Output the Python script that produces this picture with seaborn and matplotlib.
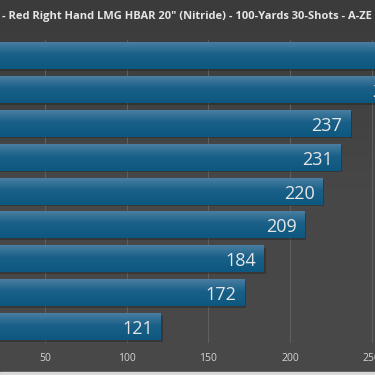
import numpy as np
import pandas as pd
import seaborn as sns
import matplotlib.pyplot as plt
from matplotlib import patheffects as pe
from matplotlib.colors import LinearSegmentedColormap
from matplotlib.patches import Rectangle

sns.set_theme(style="dark")
plt.rcParams['font.family'] = ['Open Sans', 'DejaVu Sans']

title = '- Red Right Hand LMG HBAR 20" (Nitride) - 100-Yards 30-Shots - A-ZE'
loads = ["Load 1", "Load 2", "Load 3", "Load 4", "Load 5",
         "Load 6", "Load 7", "Load 8", "Load 9"]
values = [296, 274, 237, 231, 220, 209, 184, 172, 121]
xticks = [0, 50, 100, 150, 200, 250, 300]

df = pd.DataFrame({'load': loads, 'value': values})

fig = plt.figure(figsize=(3.75, 3.75), dpi=100)

# background
bg = fig.add_axes([0, 0, 1, 1], zorder=-5)
bg_cmap = LinearSegmentedColormap.from_list('bg', ['#3b3b3b', '#474747', '#494949'])
bg.imshow(np.linspace(0, 1, 200).reshape(-1, 1), cmap=bg_cmap, aspect='auto',
          extent=(0, 1, 0, 1))
bg.set_axis_off()

# the chart is a crop of a wider one: the axes runs past both edges
ax = fig.add_axes([-0.098, 0.0853, 1.307, 0.808])
ax.patch.set_alpha(0)
sns.barplot(data=df, x='value', y='load', orient='h', color='#1d6389',
            width=0.77, ax=ax, saturation=1)

bar_cmap = LinearSegmentedColormap.from_list(
    'bar', [(0, '#4a7ea2'), (0.45, '#1a6088'), (1, '#0c5880')])
grad = np.linspace(0, 1, 200).reshape(-1, 1)
for p in ax.patches:
    p.set_edgecolor('none')
    p.set_linewidth(0)
    # the patch only casts the soft shadow, the gradient image covers it
    p.set_facecolor('#222222')
    p.set_alpha(0.55)
    p.set_path_effects([pe.withSimplePatchShadow(offset=(1.2, -1.2), shadow_rgbFace='#1a1a1a',
                                                 alpha=0.35)])
    x0, y0, w, h = p.get_x(), p.get_y(), p.get_width(), p.get_height()
    ax.imshow(grad, cmap=bar_cmap, aspect='auto', zorder=p.get_zorder() + 0.1,
              extent=(x0, x0 + w, y0 + h, y0), interpolation='nearest')

ax.set_xlim(0, 300)
ax.set_ylim(8.47, -0.47)

for i, v in enumerate(values):
    ax.annotate(str(v), (v, i), xytext=(-8, 0), textcoords='offset pixels',
                ha='right', va='center_baseline', fontsize=13, color='#e6e6e6',
                zorder=10)

ax.set_xticks(xticks)
ax.xaxis.grid(True, color='#5e5e5e', lw=0.8)
ax.yaxis.grid(False)
ax.set_axisbelow(True)
ax.tick_params(axis='x', colors='#d4d4d4', labelsize=7.5, length=0, pad=7)
ax.tick_params(axis='y', colors='#d4d4d4', labelsize=8, length=0)
for s in ax.spines.values():
    s.set_visible(False)
ax.set_xlabel('')
ax.set_ylabel('')

fig.text(2 / 375, 1 - 16 / 375, title, ha='left', va='center', fontweight='bold',
         fontsize=8, color='#e6e6e6')

fig.patches.append(Rectangle((0, 0), 1, 3 / 375, transform=fig.transFigure,
                             color='#d8d8d8', zorder=5))

fig.savefig('out.png', dpi=100)
